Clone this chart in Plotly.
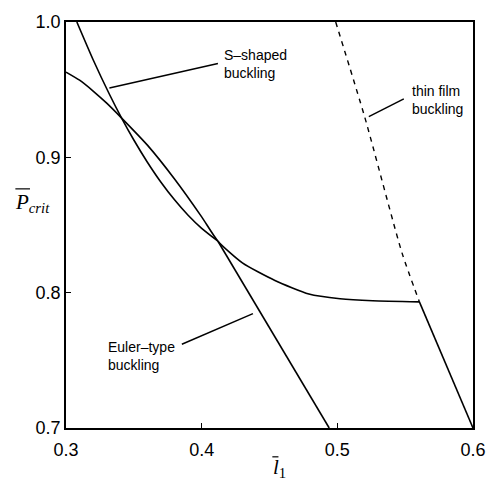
import plotly.graph_objects as go

# ---- data ----
# S-shaped branch (upper part of the steep line)
sshape_x = [0.308, 0.320, 0.332, 0.341, 0.350, 0.360, 0.370, 0.380, 0.390, 0.400, 0.412]
sshape_y = [1.000, 0.9721, 0.9466, 0.929, 0.9128, 0.8964, 0.8816, 0.8686, 0.8572, 0.8475, 0.838]

# Euler-type branch (straight lower part)
euler_x = [0.412, 0.494]
euler_y = [0.838, 0.700]

# overall critical-load curve
curve_x = [0.300, 0.310, 0.320, 0.330, 0.341, 0.360, 0.380, 0.400, 0.412, 0.430, 0.454, 0.479, 0.502, 0.526, 0.5605]
curve_y = [0.963, 0.957, 0.949, 0.940, 0.929, 0.909, 0.884, 0.856, 0.838, 0.822, 0.809, 0.799, 0.7955, 0.794, 0.7932]

drop_x = [0.5605, 0.600]
drop_y = [0.7932, 0.700]

# thin film buckling (dashed)
film_x = [0.4988, 0.5203, 0.5476, 0.5605]
film_y = [1.000, 0.9294, 0.8296, 0.7932]

x_ticks = [0.3, 0.4, 0.5, 0.6]
y_ticks = [0.7, 0.8, 0.9, 1.0]

labels = ["S\u2013shaped<br>buckling", "thin film<br>buckling", "Euler\u2013type<br>buckling"]
label_x = [0.4153, 0.5533, 0.3294]
label_y = [0.9687, 0.9425, 0.7532]
pointer_from = [(0.4120, 0.9694), (0.5490, 0.9432), (0.3854, 0.7619)]
pointer_to = [(0.3320, 0.9512), (0.5232, 0.9301), (0.4378, 0.7845)]

line_style = dict(color="black", width=1.6)

fig = go.Figure()
fig.add_trace(go.Scatter(x=sshape_x, y=sshape_y, mode="lines", line=dict(**line_style, shape="spline", smoothing=0.6)))
fig.add_trace(go.Scatter(x=euler_x, y=euler_y, mode="lines", line=line_style))
fig.add_trace(go.Scatter(x=curve_x, y=curve_y, mode="lines", line=dict(**line_style, shape="spline", smoothing=0.6)))
fig.add_trace(go.Scatter(x=drop_x, y=drop_y, mode="lines", line=line_style))
fig.add_trace(go.Scatter(x=film_x, y=film_y, mode="lines",
                         line=dict(color="black", width=1.4, dash="5px,5px", shape="spline", smoothing=0.6)))

for t, lx, ly in zip(labels, label_x, label_y):
    fig.add_annotation(x=lx, y=ly, text=t, showarrow=False, xanchor="left", yanchor="middle",
                       align="left", font=dict(family="Liberation Sans, Arial", size=14, color="black"))
for (x0, y0), (x1, y1) in zip(pointer_from, pointer_to):
    fig.add_shape(type="line", x0=x0, y0=y0, x1=x1, y1=y1, xref="x", yref="y",
                  line=dict(color="black", width=1.5))

serif = dict(family="Liberation Serif, Times New Roman", size=21, color="black")
# y-axis title: P-bar with subscript crit
fig.add_annotation(x=-0.131, y=0.553, xref="paper", yref="paper", showarrow=False,
                   text="<i>P</i><sub><i>crit</i></sub>", xanchor="left", yanchor="middle", font=serif)
fig.add_shape(type="line", xref="paper", yref="paper", x0=-0.1244, x1=-0.0885, y0=0.589, y1=0.589,
              line=dict(color="black", width=1.2))
# x-axis title: l-bar with subscript 1
fig.add_annotation(x=0.503, y=-0.098, xref="paper", yref="paper", showarrow=False,
                   text="<i>l</i><sub>1</sub>", xanchor="left", yanchor="middle", font=serif)
fig.add_shape(type="line", xref="paper", yref="paper", x0=0.507, x1=0.522, y0=-0.071, y1=-0.071,
              line=dict(color="black", width=1.2))

axis_common = dict(showgrid=False, zeroline=False, showline=True, linecolor="black", linewidth=1.5,
                   mirror=True, ticks="inside", ticklen=5, tickwidth=1.2, tickcolor="black",
                   tickfont=dict(family="Liberation Sans, Arial", size=18, color="black"))
fig.update_xaxes(range=[0.3, 0.6], tickvals=x_ticks, ticktext=[f"{v:.1f}" for v in x_ticks],
                 ticklabelstandoff=5, **axis_common)
fig.update_yaxes(range=[0.7, 1.0], tickvals=y_ticks, ticktext=[f"{v:.1f}" for v in y_ticks], **axis_common)

fig.update_layout(width=498, height=481, margin=dict(l=66, r=14, t=16, b=53),
                  plot_bgcolor="white", paper_bgcolor="white", showlegend=False)

fig.write_html("out.html")
